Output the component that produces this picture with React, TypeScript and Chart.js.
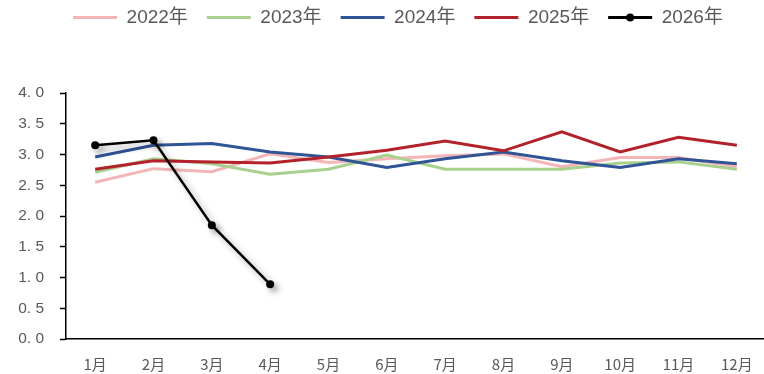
import React, { useEffect, useRef } from "react";
import { Chart, registerables } from "chart.js";

Chart.register(...registerables);

const months = ["1月", "2月", "3月", "4月", "5月", "6月", "7月", "8月", "9月", "10月", "11月", "12月"];
const s2022 = [2.55, 2.77, 2.72, 3.01, 2.87, 2.93, 2.98, 3.01, 2.8, 2.95, 2.95, 2.8];
const s2023 = [2.71, 2.93, 2.85, 2.68, 2.76, 2.99, 2.76, 2.76, 2.76, 2.86, 2.88, 2.76];
const s2024 = [2.96, 3.15, 3.18, 3.04, 2.96, 2.79, 2.93, 3.04, 2.9, 2.79, 2.93, 2.85];
const s2025 = [2.76, 2.9, 2.88, 2.86, 2.96, 3.07, 3.22, 3.06, 3.37, 3.04, 3.28, 3.15];
const s2026 = [3.15, 3.23, 1.85, 0.89];
const seriesNames = ["2022年", "2023年", "2024年", "2025年", "2026年"];
const seriesColors = ["#F4B5B7", "#A9D18E", "#2F5597", "#B3222A", "#000000"];

const FONT = "'Liberation Sans', 'Noto Sans CJK SC', sans-serif";
const NARROW = "'Liberation Sans Narrow', 'Noto Sans CJK SC', sans-serif";
const LEGEND_SHIFT = 14;

export default function App() {
  const ref = useRef<HTMLCanvasElement | null>(null);
  useEffect(() => {
    if (!ref.current) return;
    const all = [s2022, s2023, s2024, s2025, s2026];
    const shadowPlugin = {
      id: "shadow",
      beforeDatasetDraw(chart: any, args: any) {
        if (args.index === 4) {
          const ctx = chart.ctx;
          ctx.save();
          ctx.shadowColor = "rgba(0,0,0,0.35)";
          ctx.shadowBlur = 6;
          ctx.shadowOffsetX = 4;
          ctx.shadowOffsetY = 4;
        }
      },
      afterDatasetDraw(chart: any, args: any) {
        if (args.index === 4) chart.ctx.restore();
      },
    };
    const legendFit = {
      id: "legendFit",
      beforeInit(chart: any) {
        const orig = chart.legend.fit;
        chart.legend.fit = function () {
          orig.bind(chart.legend)();
          this.height = 104;
        };
      },
      afterUpdate(chart: any) {
        const lg = chart.legend;
        if (!lg) return;
        lg.left += LEGEND_SHIFT;
        lg.right += LEGEND_SHIFT;
      },
    };
    const legendDot = {
      id: "legendDot",
      afterDraw(chart: any) {
        const lg = chart.legend;
        const hb = lg && lg.legendHitBoxes && lg.legendHitBoxes[4];
        if (!hb) return;
        const ctx = chart.ctx;
        ctx.save();
        ctx.fillStyle = "#000";
        ctx.beginPath();
        ctx.arc(hb.left + LEGEND_SHIFT + 22, hb.top + hb.height / 2, 4, 0, Math.PI * 2);
        ctx.fill();
        ctx.restore();
      },
    };
    const chart = new Chart(ref.current, {
      type: "line",
      data: {
        labels: months,
        datasets: all.map((d, i) => ({
          label: seriesNames[i],
          data: d,
          borderColor: seriesColors[i],
          backgroundColor: seriesColors[i],
          borderWidth: i === 4 ? 2.5 : 3,
          pointRadius: i === 4 ? 4 : 0,
          pointBackgroundColor: "#000",
          pointBorderWidth: 0,
          tension: 0,
          order: 4 - i,
        })),
      },
      options: {
        animation: false,
        responsive: false,
        maintainAspectRatio: false,
        layout: { padding: { left: 0, right: 2, top: -11, bottom: 0 } },
        plugins: {
          tooltip: { enabled: false },
          legend: {
            position: "top",
            labels: {
              boxWidth: 44,
              boxHeight: 3,
              padding: 19,
              color: "#595959",
              font: { family: FONT, size: 19 },
              sort: (a: any, b: any) => a.datasetIndex - b.datasetIndex,
              generateLabels: (c: any) =>
                Chart.defaults.plugins.legend.labels.generateLabels(c).map((l: any) => ({ ...l, lineWidth: 0 })),
            },
          },
        },
        scales: {
          x: {
            offset: true,
            grid: { display: false, drawTicks: false },
            border: { display: true, color: "#000", width: 1.5 },
            ticks: { color: "#595959", font: { family: NARROW, size: 15 }, padding: 16, maxRotation: 0, autoSkip: false },
            afterFit: (s: any) => {
              s.height = 35;
            },
          },
          y: {
            min: 0,
            max: 4,
            grid: { drawOnChartArea: false, drawTicks: true, tickLength: 6, tickColor: "#000", tickWidth: 1.5 },
            border: { display: true, color: "#000", width: 1.5 },
            ticks: {
              stepSize: 0.5,
              color: "#595959",
              font: { family: FONT, size: 15.5 },
              padding: 16,
              callback: (v: any) => Number(v).toFixed(1).replace(".", ". "),
            },
            afterFit: (s: any) => {
              s.width = 66;
            },
          },
        },
      },
      plugins: [shadowPlugin, legendFit, legendDot],
    } as any);
    return () => chart.destroy();
  }, []);
  return (
    <div style={{ position: "fixed", left: 0, top: 0, width: 770, height: 374, background: "#fff" }}>
      <canvas ref={ref} width={770} height={374} style={{ display: "block", width: 770, height: 374 }} />
    </div>
  );
}
